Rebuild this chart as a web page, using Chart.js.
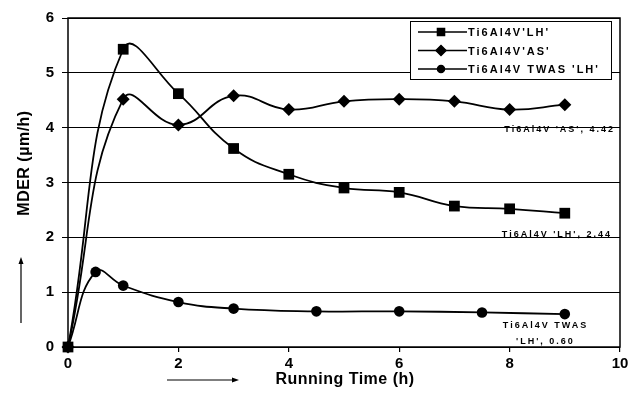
<!DOCTYPE html>
<html>
<head>
  <title>MDER vs running time</title>
  <script src="https://cdn.jsdelivr.net/npm/chart.js"></script>
  <style>
    body { margin: 0; background: #fff; }
    #wrap { width: 641px; height: 398px; }
  </style>
</head>
<body>
  <div id="wrap"><canvas id="mderChart"></canvas></div>
  <script>
    // series data
    const timeLH = [0, 1, 2, 3, 4, 5, 6, 7, 8, 9];
    const mderLH = [0, 5.43, 4.62, 3.62, 3.15, 2.9, 2.82, 2.57, 2.52, 2.44];
    const timeAS = [0, 1, 2, 3, 4, 5, 6, 7, 8, 9];
    const mderAS = [0, 4.52, 4.05, 4.58, 4.33, 4.48, 4.52, 4.48, 4.33, 4.42];
    const timeTWAS = [0, 0.5, 1, 2, 3, 4.5, 6, 7.5, 9];
    const mderTWAS = [0, 1.37, 1.12, 0.82, 0.7, 0.65, 0.65, 0.63, 0.6];
    const seriesNames = ["Ti6Al4V'LH'", "Ti6Al4V'AS'", "Ti6Al4V TWAS 'LH'"];
    const endLabels = [["Ti6Al4V 'LH', 2.44"], ["Ti6Al4V 'AS', 4.42"], ["Ti6Al4V TWAS", "'LH', 0.60"]];
    const xTicks = [0, 2, 4, 6, 8, 10];
    const yTicks = [0, 1, 2, 3, 4, 5, 6];

    const toPoints = (xs, ys) => xs.map((x, i) => ({x: x, y: ys[i]}));

    // frame, legend, axis titles with arrows, end labels
    const decorations = {
      id: 'decorations',
      afterDraw(chart) {
        const ctx = chart.ctx;
        const a = chart.chartArea;
        const xs = chart.scales.x, ys = chart.scales.y;
        ctx.save();
        ctx.strokeStyle = '#000';
        ctx.fillStyle = '#000';
        ctx.lineWidth = 1.5;
        ctx.strokeRect(a.left, a.top, a.right - a.left, a.bottom - a.top);

        // end labels
        ctx.font = 'bold 9px Arial, "Liberation Sans", sans-serif';
        ctx.letterSpacing = '2px';
        ctx.textBaseline = 'alphabetic';
        ctx.textAlign = 'right';
        ctx.fillText(endLabels[1][0], a.right - 5, ys.getPixelForValue(4.42) + 27);
        ctx.fillText(endLabels[0][0], a.right - 8, ys.getPixelForValue(2.44) + 24);
        ctx.textAlign = 'center';
        ctx.fillText(endLabels[2][0], xs.getPixelForValue(8.65), ys.getPixelForValue(0.6) + 14);
        ctx.fillText(endLabels[2][1], xs.getPixelForValue(8.65), ys.getPixelForValue(0.6) + 30);

        // legend
        const lx = 410, ly = 21, lw = 201, lh = 58;
        ctx.fillStyle = '#fff';
        ctx.fillRect(lx, ly, lw, lh);
        ctx.lineWidth = 1;
        ctx.strokeRect(lx + 0.5, ly + 0.5, lw, lh);
        ctx.fillStyle = '#000';
        ctx.font = 'bold 11px Arial, "Liberation Sans", sans-serif';
        ctx.letterSpacing = '2px';
        ctx.textAlign = 'left';
        ctx.textBaseline = 'middle';
        const styles = ['rect', 'rectRot', 'circle'];
        const sizes = [5, 5, 3.5];
        seriesNames.forEach((name, i) => {
          const y = ly + 11 + i * 18.5;
          ctx.lineWidth = 1.5;
          ctx.beginPath();
          ctx.moveTo(418, y);
          ctx.lineTo(467, y);
          ctx.stroke();
          Chart.helpers.drawPoint(ctx, {pointStyle: styles[i], radius: sizes[i], borderWidth: 1}, 441, y);
          ctx.fill();
          ctx.fillText(name, 468, y + 1);
        });

        // axis titles
        ctx.letterSpacing = '0.5px';
        ctx.font = 'bold 16px Arial, "Liberation Sans", sans-serif';
        ctx.textAlign = 'center';
        ctx.fillText('Running Time (h)', 345, 380);
        ctx.save();
        ctx.translate(25, 163);
        ctx.rotate(-Math.PI / 2);
        ctx.fillText('MDER (\u00b5m/h)', 0, 0);
        ctx.restore();

        // arrows
        ctx.lineWidth = 1.2;
        ctx.beginPath();
        ctx.moveTo(167, 380); ctx.lineTo(234, 380);
        ctx.moveTo(21, 323); ctx.lineTo(21, 262);
        ctx.stroke();
        ctx.beginPath();
        ctx.moveTo(239, 380); ctx.lineTo(232, 377.5); ctx.lineTo(232, 382.5); ctx.closePath();
        ctx.moveTo(21, 257); ctx.lineTo(18.5, 264); ctx.lineTo(23.5, 264); ctx.closePath();
        ctx.fill();
        ctx.restore();
      }
    };

    const lineSet = (label, pts, style, radius) => ({
      label: label,
      data: pts,
      showLine: true,
      clip: false,
      borderColor: '#000',
      backgroundColor: '#000',
      borderWidth: 1.8,
      tension: 0.45,
      pointStyle: style,
      pointRadius: radius,
      pointBorderWidth: 0
    });

    new Chart(document.getElementById('mderChart'), {
      type: 'scatter',
      data: {
        datasets: [
          lineSet(seriesNames[0], toPoints(timeLH, mderLH), 'rect', 7.6),
          lineSet(seriesNames[1], toPoints(timeAS, mderAS), 'rectRot', 6.5),
          lineSet(seriesNames[2], toPoints(timeTWAS, mderTWAS), 'circle', 5.3)
        ]
      },
      options: {
        responsive: true,
        maintainAspectRatio: false,
        animation: false,
        layout: { padding: { left: 0, right: 21, top: 18, bottom: 0 } },
        plugins: {
          legend: { display: false },
          tooltip: { enabled: false }
        },
        scales: {
          x: {
            type: 'linear',
            min: 0,
            max: 10,
            afterBuildTicks: (s) => { s.ticks = xTicks.map(v => ({value: v})); },
            afterFit: (s) => { s.height = 51; },
            grid: { drawOnChartArea: false, drawTicks: true, tickLength: 5, color: '#000', lineWidth: 1.2 },
            border: { display: false },
            ticks: {
              color: '#000',
              padding: 3,
              font: { family: 'Arial, "Liberation Sans", sans-serif', size: 15, weight: 'bold' }
            }
          },
          y: {
            type: 'linear',
            min: 0,
            max: 6,
            afterBuildTicks: (s) => { s.ticks = yTicks.map(v => ({value: v})); },
            afterFit: (s) => { s.width = 68; },
            grid: { color: '#000', lineWidth: 1, tickLength: 6 },
            border: { display: false },
            ticks: {
              color: '#000',
              padding: 8,
              font: { family: 'Arial, "Liberation Sans", sans-serif', size: 15, weight: 'bold' }
            }
          }
        }
      },
      plugins: [decorations]
    });
  </script>
</body>
</html>
